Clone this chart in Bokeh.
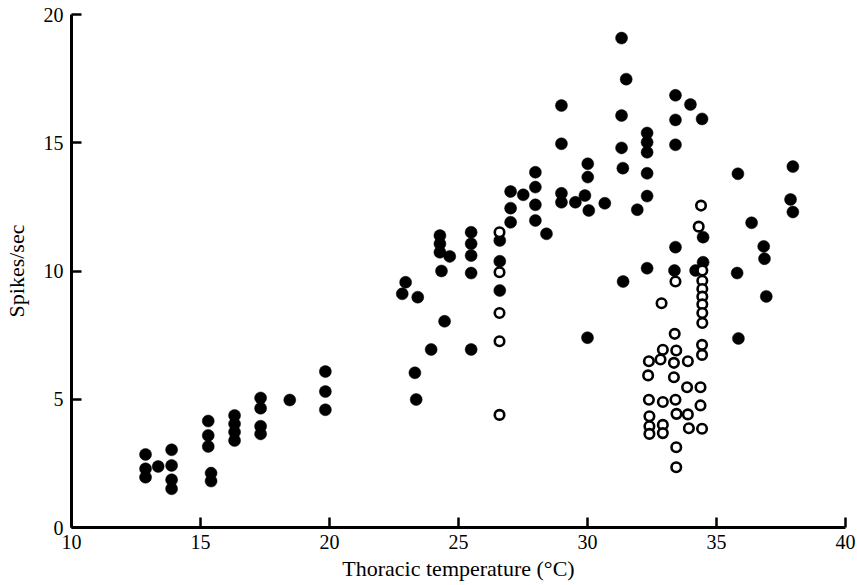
from bokeh.plotting import figure
from bokeh.models import Range1d, FixedTicker
from bokeh.embed import file_html
from bokeh.resources import INLINE

# Filled circles: thoracic temperature (deg C) and spikes/sec
filled_temp = [
    12.87, 12.87, 12.87, 13.36, 13.88, 13.88, 13.88, 13.88,
    15.30, 15.30, 15.30, 15.41, 15.41,
    16.32, 16.32, 16.32, 16.32,
    17.33, 17.33, 17.33, 17.33,
    18.46, 19.84, 19.84, 19.84,
    22.95, 22.82, 23.42, 23.31, 23.36, 23.94,
    24.28, 24.28, 24.28, 24.66, 24.34, 24.46,
    25.49, 25.49, 25.49, 25.49, 25.49,
    26.60, 26.60, 26.60,
    27.02, 27.02, 27.02, 27.51,
    27.98, 27.98, 27.98, 27.98, 28.41,
    28.99, 28.99, 28.99, 28.99, 29.53, 29.90,
    30.01, 30.01, 30.05, 30.00, 30.67,
    31.32, 31.32, 31.37, 31.32, 31.50, 31.38, 31.93,
    32.31, 32.31, 32.31, 32.31, 32.31, 32.31,
    33.41, 33.41, 33.41, 33.41, 33.37,
    33.99, 34.44, 34.48, 34.48, 34.19,
    35.83, 35.80, 35.85, 36.36, 36.83, 36.86, 36.93,
    37.96, 37.87, 37.96,
]
filled_rate = [
    2.85, 2.29, 1.96, 2.38, 3.03, 2.42, 1.86, 1.51,
    4.15, 3.59, 3.16, 2.12, 1.81,
    4.37, 4.04, 3.72, 3.39,
    5.05, 4.65, 3.95, 3.65,
    4.97, 6.08, 5.30, 4.59,
    9.56, 9.11, 8.98, 6.03, 4.99, 6.94,
    11.38, 11.06, 10.73, 10.57, 10.00, 8.04,
    11.51, 11.06, 10.60, 9.92, 6.94,
    11.19, 10.38, 9.24,
    13.10, 12.45, 11.90, 12.97,
    13.85, 13.27, 12.58, 11.97, 11.45,
    16.45, 14.96, 13.03, 12.68, 12.68, 12.94,
    14.18, 13.66, 12.36, 7.40, 12.64,
    16.06, 14.80, 14.01, 19.08, 17.48, 9.59, 12.39,
    15.38, 15.02, 14.63, 13.81, 12.92, 10.11,
    16.85, 15.89, 14.92, 10.93, 10.02,
    16.49, 15.93, 11.32, 10.34, 10.02,
    13.79, 9.92, 7.37, 11.88, 10.96, 10.48, 9.01,
    14.07, 12.79, 12.30,
]

# Open circles
open_temp = [
    26.59, 26.59, 26.59, 26.59, 26.59,
    32.87, 33.41, 34.40, 34.31,
    34.45, 34.45, 34.45, 34.45, 34.45, 34.45, 34.45,
    34.44, 34.44, 33.38, 32.92, 33.44,
    32.38, 32.83, 33.35, 33.89,
    32.35, 33.35, 33.86, 34.38,
    32.38, 32.92, 33.41, 34.38,
    33.45, 33.89, 32.40, 32.40, 32.40,
    32.92, 32.92, 33.93, 34.44, 33.44, 33.44,
]
open_rate = [
    11.51, 9.95, 8.36, 7.26, 4.39,
    8.74, 9.59, 12.55, 11.73,
    10.02, 9.62, 9.30, 9.00, 8.70, 8.36, 7.97,
    7.12, 6.73, 7.55, 6.93, 6.90,
    6.48, 6.55, 6.42, 6.48,
    5.93, 5.86, 5.47, 5.47,
    4.98, 4.89, 4.98, 4.76,
    4.43, 4.41, 4.34, 3.95, 3.65,
    4.00, 3.68, 3.87, 3.85, 3.13, 2.35,
]

x_ticks = [10, 15, 20, 25, 30, 35, 40]
y_ticks = [0, 5, 10, 15, 20]

FONT = "Liberation Serif"

p = figure(width=857, height=585, output_backend="svg", toolbar_location=None,
           x_range=Range1d(10, 40), y_range=Range1d(0, 20),
           min_border_left=71, min_border_right=12, min_border_top=14,
           min_border_bottom=58)
p.outline_line_color = None
p.xgrid.visible = False
p.ygrid.visible = False
p.background_fill_color = "white"
p.border_fill_color = "white"

p.scatter(filled_temp, filled_rate, size=12, marker="circle",
          fill_color="black", line_color="black", line_width=0.5)
p.scatter(open_temp, open_rate, size=9.5, marker="circle",
          fill_color="white", line_color="black", line_width=2.6)

for ax in (p.xaxis[0], p.yaxis[0]):
    ax.axis_line_color = "black"
    ax.axis_line_width = 3
    ax.major_tick_line_color = "black"
    ax.major_tick_line_width = 2.5
    ax.major_tick_in = 10
    ax.major_tick_out = 0
    ax.minor_tick_line_color = None
    ax.major_label_text_font = FONT
    ax.major_label_text_font_size = "20px"
    ax.major_label_text_color = "black"
    ax.axis_label_text_font = FONT
    ax.axis_label_text_font_size = "22px"
    ax.axis_label_text_font_style = "normal"
    ax.axis_label_text_color = "black"

p.xaxis.ticker = FixedTicker(ticks=x_ticks)
p.yaxis.ticker = FixedTicker(ticks=y_ticks)
p.xaxis.axis_label = "Thoracic temperature (°C)"
p.yaxis.axis_label = "Spikes/sec"
p.xaxis.major_label_standoff = 7
p.yaxis.major_label_standoff = 8
p.xaxis.axis_label_standoff = 4
p.yaxis.axis_label_standoff = 12

open("out.html", "w").write(file_html(p, INLINE))
